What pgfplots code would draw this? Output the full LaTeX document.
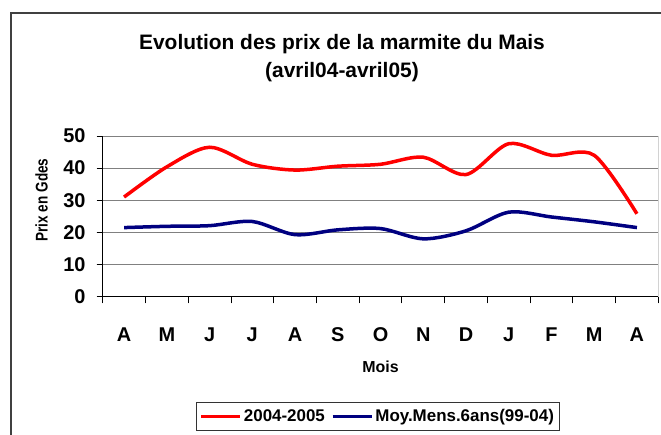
\documentclass[border=0pt]{standalone}
\usepackage{pgfplots}
\pgfplotsset{compat=1.18}
\usepackage{fontspec}
\setmainfont{Liberation Sans}
\newfontfamily\ylabfont[FakeStretch=0.8]{Liberation Sans}
\definecolor{navyline}{RGB}{0,0,128}
\definecolor{redline}{RGB}{255,0,0}
\begin{document}
\begin{tikzpicture}
\path[use as bounding box] (0,0) rectangle (661bp,435bp);
\clip (0,0) rectangle (661bp,435bp);
\draw[black!75, line width=1.5bp] (11bp,-5bp) -- (11bp,422bp) -- (670bp,422bp);
\node[anchor=base, inner sep=0pt, font=\fontsize{21}{25}\selectfont\bfseries] at (342bp,385bp) {Evolution des prix de la marmite du Mais};
\node[anchor=base, inner sep=0pt, font=\fontsize{21}{25}\selectfont\bfseries] at (342bp,357.3bp) {(avril04-avril05)};
\begin{axis}[
  at={(102.7bp,138.3bp)}, anchor=south west,
  scale only axis, width=555.6bp, height=160.7bp,
  xmin=-0.5, xmax=12.5, ymin=0, ymax=50,
  axis x line*=bottom, axis y line*=left,
  axis line style={black, line width=0.8bp},
  tick align=outside,
  major tick length=6bp, minor tick length=6.7bp,
  xtick={0,...,12}, xticklabels={A,M,J,J,A,S,O,N,D,J,F,M,A},
  major x tick style={draw=none},
  minor xtick={-0.5,0.5,...,12.5},
  minor x tick style={black, line width=0.8bp},
  ytick={0,10,...,50},
  major y tick style={black, line width=0.8bp},
  ymajorgrids,
  major grid style={black!50, line width=0.8bp},
  extra y ticks={10,20}, extra y tick labels={},
  extra y tick style={grid style={black, line width=0.8bp}},
  /pgf/number format/assume math mode=true,
  ticklabel style={font=\fontsize{20}{24}\selectfont\bfseries},
  xticklabel style={anchor=base, yshift=-39bp},
  yticklabel style={anchor=east, inner sep=0pt, xshift=-11bp},
  xlabel={Mois},
  xlabel style={font=\fontsize{16}{19}\selectfont\bfseries, at={(axis description cs:0.5,-0.473)}, anchor=base},
  ylabel={Prix en Gdes},
  ylabel style={font=\ylabfont\fontsize{17}{20}\selectfont\bfseries, at={(axis description cs:-0.1098,0.602)}, anchor=center},
  legend columns=2,
  legend style={at={(axis description cs:0.168,-0.657)}, anchor=north west,
    draw=black!80, line width=0.8bp, inner xsep=3bp, inner ysep=5bp,
    font=\fontsize{17}{20}\selectfont\bfseries,
    /tikz/every even column/.append style={column sep=4bp}},
  legend image code/.code={\draw[#1] (0bp,0bp) -- (39bp,0bp);},
]
\addplot[redline, line width=3.5bp, smooth] coordinates {
(0,31) (1,40.4) (2,46.5) (3,41.2) (4,39.4) (5,40.6) (6,41.2) (7,43.4) (8,38) (9,47.6) (10,44) (11,44) (12,25.8)};
\addlegendentry{2004-2005}
\addplot[navyline, line width=3.5bp, smooth] coordinates {
(0,21.5) (1,21.9) (2,22.1) (3,23.4) (4,19.3) (5,20.8) (6,21.2) (7,18) (8,20.5) (9,26.3) (10,24.8) (11,23.3) (12,21.5)};
\addlegendentry{Moy.Mens.6ans(99-04)}
\draw[black!50, line width=0.8bp] (rel axis cs:1,0) -- (rel axis cs:1,1);
\end{axis}
\end{tikzpicture}
\end{document}
